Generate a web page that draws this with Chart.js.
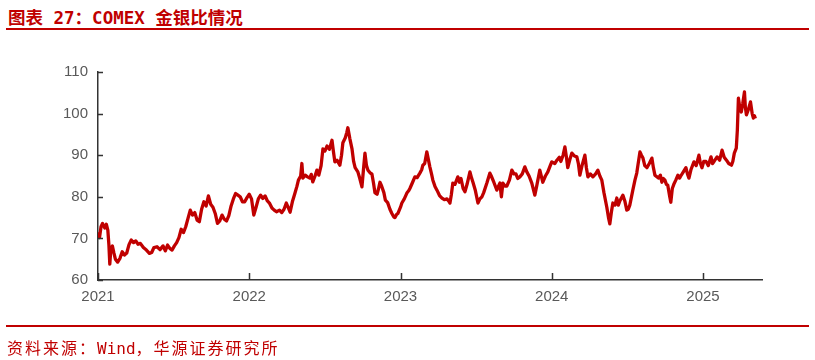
<!DOCTYPE html>
<html>
<head>
<meta charset="utf-8">
<script src="https://cdn.jsdelivr.net/npm/chart.js@4.4.1/dist/chart.umd.min.js"></script>
<style>
  html, body { margin: 0; padding: 0; background: #fff; }
  #wrap { position: relative; width: 815px; height: 360px; overflow: hidden; }
  #title { position: absolute; left: 8px; top: 4px; font: bold 17.5px "DejaVu Sans Mono", "Noto Sans CJK SC", sans-serif; color: #C00000; white-space: nowrap; }
  .rule { position: absolute; left: 6px; width: 803px; height: 2px; background: #C00000; }
  #source { position: absolute; left: 7px; top: 335px; font: 16px "DejaVu Sans Mono", "Noto Sans CJK SC", sans-serif; color: #C00000; white-space: nowrap; }
  #source .cjk { letter-spacing: 2px; }
  #chart { position: absolute; left: 0; top: 0; }
</style>
</head>
<body>
<div id="wrap">
  <div id="title">图表 27：COMEX 金银比情况</div>
  <div class="rule" style="top:28px"></div>
  <canvas id="chart" width="815" height="360"></canvas>
  <div class="rule" style="top:325px"></div>
  <div id="source"><span class="cjk">资料来源：</span>Wind<span class="cjk">，华源证券研究所</span></div>
</div>
<script>
// 金银比 (gold / silver), dates as decimal years
const dates = [
  2021.00, 2021.01, 2021.02, 2021.03, 2021.045, 2021.055, 2021.065, 2021.072, 2021.078, 2021.085,
  2021.095, 2021.105, 2021.115, 2021.13, 2021.145, 2021.16, 2021.175, 2021.19, 2021.205, 2021.22,
  2021.235, 2021.25, 2021.265, 2021.28, 2021.30, 2021.32, 2021.34, 2021.355, 2021.37, 2021.39,
  2021.41, 2021.43, 2021.445, 2021.46, 2021.475, 2021.49, 2021.505, 2021.52, 2021.535, 2021.55,
  2021.565, 2021.58, 2021.595, 2021.61, 2021.625, 2021.64, 2021.655, 2021.67, 2021.685, 2021.70,
  2021.715, 2021.73, 2021.745, 2021.76, 2021.775, 2021.79, 2021.805, 2021.82, 2021.835, 2021.85,
  2021.865, 2021.88, 2021.895, 2021.91, 2021.925, 2021.94, 2021.955, 2021.97, 2021.985, 2022.00,
  2022.015, 2022.03, 2022.045, 2022.06, 2022.075, 2022.09, 2022.105, 2022.12, 2022.135, 2022.15,
  2022.165, 2022.18, 2022.20, 2022.215, 2022.23, 2022.245, 2022.26, 2022.27, 2022.285, 2022.30,
  2022.315, 2022.325, 2022.34, 2022.348, 2022.355, 2022.37, 2022.385, 2022.40, 2022.41, 2022.42,
  2022.435, 2022.447, 2022.46, 2022.475, 2022.487, 2022.50, 2022.514, 2022.53, 2022.547, 2022.556,
  2022.566, 2022.58, 2022.599, 2022.61, 2022.619, 2022.635, 2022.645, 2022.652, 2022.665, 2022.679,
  2022.69, 2022.70, 2022.718, 2022.73, 2022.745, 2022.755, 2022.765, 2022.775, 2022.785, 2022.80,
  2022.811, 2022.822, 2022.831, 2022.845, 2022.855, 2022.864, 2022.875, 2022.89, 2022.90, 2022.915,
  2022.93, 2022.943, 2022.955, 2022.963, 2022.975, 2022.983, 2023.00,
  2023.009, 2023.025, 2023.042, 2023.055, 2023.062, 2023.08, 2023.095, 2023.11, 2023.128, 2023.14,
  2023.148, 2023.16, 2023.174, 2023.185, 2023.194, 2023.205, 2023.214, 2023.228, 2023.241, 2023.258,
  2023.274, 2023.29, 2023.307, 2023.318, 2023.327, 2023.336, 2023.346, 2023.36, 2023.379, 2023.39,
  2023.40, 2023.414, 2023.426, 2023.44, 2023.459, 2023.47, 2023.479, 2023.495, 2023.512, 2023.525,
  2023.538, 2023.55, 2023.571, 2023.591, 2023.60, 2023.617, 2023.637, 2023.647, 2023.657, 2023.667,
  2023.677, 2023.69, 2023.703, 2023.72, 2023.736, 2023.75, 2023.763, 2023.775, 2023.789, 2023.805,
  2023.822, 2023.835, 2023.85, 2023.868, 2023.888, 2023.90, 2023.921, 2023.941, 2023.958, 2023.974,
  2023.99, 2024.00,
  2024.02, 2024.034, 2024.05, 2024.06, 2024.075, 2024.087, 2024.097, 2024.106, 2024.12, 2024.133,
  2024.15, 2024.166, 2024.176, 2024.186, 2024.20, 2024.219, 2024.229, 2024.239, 2024.255, 2024.272,
  2024.29, 2024.305, 2024.318, 2024.331, 2024.345, 2024.364, 2024.375, 2024.384, 2024.395, 2024.404,
  2024.418, 2024.43, 2024.44, 2024.45, 2024.47, 2024.483, 2024.496, 2024.506, 2024.516, 2024.536,
  2024.55, 2024.562, 2024.583, 2024.593, 2024.603, 2024.615, 2024.629, 2024.645, 2024.662, 2024.672,
  2024.682, 2024.695, 2024.705, 2024.718, 2024.728, 2024.738, 2024.748, 2024.758, 2024.767, 2024.78,
  2024.787, 2024.797, 2024.807, 2024.82, 2024.834, 2024.845, 2024.853, 2024.87, 2024.887, 2024.897,
  2024.907, 2024.92, 2024.94, 2024.955, 2024.973, 2024.983, 2024.993,
  2025.005, 2025.02, 2025.035, 2025.053, 2025.063, 2025.073, 2025.093, 2025.11, 2025.126, 2025.14,
  2025.155, 2025.17, 2025.188, 2025.197, 2025.207, 2025.22, 2025.227, 2025.234, 2025.243, 2025.253,
  2025.263, 2025.274, 2025.28, 2025.287, 2025.30, 2025.314, 2025.325, 2025.333, 2025.34, 2025.346
];
const ratio = [
  71.5, 70.2, 72.8, 73.6, 72.5, 73.4, 72.0, 68.5, 63.8, 67.5,
  68.2, 66.5, 65.0, 64.3, 65.2, 66.8, 66.0, 66.5, 68.5, 69.6,
  69.0, 69.4, 68.6, 68.8, 67.8, 67.2, 66.4, 66.6, 67.8, 68.0,
  67.3, 68.2, 67.0, 68.4, 67.6, 67.2, 68.2, 69.0, 70.2, 72.2,
  71.4, 72.8, 74.8, 76.8, 75.6, 76.2, 74.4, 74.0, 77.0, 78.8,
  77.8, 80.2, 78.2, 77.5, 76.0, 73.6, 74.2, 75.6, 74.6, 74.2,
  75.5, 77.8, 79.5, 80.8, 80.4, 80.0, 78.8, 78.8, 79.8, 80.6,
  79.5, 75.6, 77.5, 79.5, 80.4, 79.6, 80.2, 79.0, 78.4, 77.3,
  76.8, 76.4, 76.8, 76.2, 77.0, 78.5, 77.2, 76.3, 78.8, 80.6,
  82.5, 84.0, 85.0, 88.0, 84.5, 85.2, 84.8, 84.5, 85.4, 83.6,
  85.0, 86.4, 85.2, 87.5, 91.5, 91.0, 92.2, 91.4, 93.6, 91.0,
  88.4, 88.8, 87.6, 90.0, 93.0, 94.2, 95.5, 96.6, 94.0, 91.6,
  88.5, 87.0, 86.0, 84.5, 82.4, 86.5, 90.5, 87.5, 86.4, 85.7,
  85.5, 83.2, 81.0, 80.6, 82.0, 83.5, 82.6, 81.0, 79.2, 78.6,
  77.0, 76.0, 75.2, 75.0, 75.8, 76.0, 77.5,
  78.5, 79.5, 80.9, 81.5, 82.0, 83.5, 84.8, 84.6, 85.7, 86.5,
  87.6, 88.0, 90.8, 88.8, 87.2, 85.5, 84.0, 82.5, 81.6, 80.3,
  79.7, 79.3, 79.5, 79.0, 78.5, 80.5, 83.3, 83.0, 84.8, 83.5,
  84.4, 82.0, 81.2, 83.0, 86.0, 84.5, 83.5, 81.5, 78.5, 79.5,
  80.0, 81.0, 83.3, 85.7, 85.0, 83.5, 81.6, 82.5, 83.3, 80.0,
  83.3, 82.6, 82.6, 84.0, 86.4, 85.5, 85.5, 84.4, 84.8, 85.5,
  87.2, 86.0, 85.0, 83.3, 80.4, 82.5, 86.4, 83.5, 85.0, 86.0,
  87.5, 88.4,
  88.0, 88.8, 89.5, 88.5, 90.0, 92.0, 89.5, 87.0, 89.0, 90.5,
  89.8, 89.6, 88.0, 85.2, 87.5, 90.0, 87.0, 84.8, 85.5, 84.8,
  85.5, 86.4, 85.0, 84.0, 81.0, 77.5, 75.0, 73.5, 76.5, 78.5,
  78.0, 79.7, 78.0, 79.0, 80.4, 79.0, 76.8, 77.0, 78.0, 81.6,
  84.0, 85.7, 90.8, 90.0, 89.3, 87.5, 87.0, 88.0, 89.3, 87.0,
  85.2, 84.8, 84.5, 85.2, 83.5, 84.4, 84.0, 83.0, 82.8, 80.0,
  78.7, 82.0, 83.0, 84.0, 85.2, 84.5, 85.0, 86.0, 87.0, 85.5,
  84.5, 86.5, 88.4, 87.5, 90.0, 88.0, 87.0,
  88.5, 88.5, 87.5, 89.6, 88.0, 88.5, 89.6, 88.8, 91.2, 89.5,
  88.8, 88.0, 87.6, 88.5, 90.5, 91.7, 96.0, 103.7, 101.5, 100.4,
  102.5, 105.2, 101.5, 99.7, 101.0, 102.8, 100.0, 98.9, 99.5, 98.8
];
const yearTicks = [2021, 2022, 2023, 2024, 2025];
const yTicks = [60, 70, 80, 90, 100, 110];

const points = dates.map((d, i) => ({ x: d, y: ratio[i] }));

// small inward tick marks like the original
const innerTicks = {
  id: 'innerTicks',
  afterDraw(chart) {
    const ctx = chart.ctx;
    const xs = chart.scales.x, ys = chart.scales.y;
    const a = chart.chartArea;
    ctx.save();
    ctx.strokeStyle = '#333';
    ctx.lineWidth = 1.5;
    ctx.beginPath();
    yearTicks.forEach(v => {
      const px = Math.round(xs.getPixelForValue(v)) + 0.5;
      ctx.moveTo(px, a.bottom);
      ctx.lineTo(px, a.bottom - 7);
    });
    yTicks.forEach(v => {
      const py = Math.round(ys.getPixelForValue(v)) + 0.5;
      ctx.moveTo(a.left, py);
      ctx.lineTo(a.left + 5, py);
    });
    ctx.stroke();
    ctx.restore();
  }
};

new Chart(document.getElementById('chart'), {
  type: 'line',
  data: {
    datasets: [{
      label: '金银比',
      data: points,
      borderColor: '#C00000',
      borderWidth: 3.3,
      pointRadius: 0,
      tension: 0,
      borderJoinStyle: 'round'
    }]
  },
  options: {
    responsive: false,
    animation: false,
    events: [],
    layout: { padding: { left: 0, top: 72, right: 53, bottom: 50 } },
    plugins: { legend: { display: false }, tooltip: { enabled: false } },
    scales: {
      x: {
        type: 'linear',
        min: 2021,
        max: 2025.39,
        afterBuildTicks: s => { s.ticks = yearTicks.map(v => ({ value: v })); },
        afterFit: s => { s.height = 30; },
        grid: { display: false, drawTicks: false },
        border: { display: true, color: '#333', width: 1.5 },
        ticks: {
          padding: 8,
          maxRotation: 0,
          autoSkip: false,
          color: '#595959',
          font: { family: '"Liberation Sans", Arial, sans-serif', size: 15 },
          callback: v => String(v)
        }
      },
      y: {
        min: 60,
        max: 110,
        afterBuildTicks: s => { s.ticks = yTicks.map(v => ({ value: v })); },
        afterFit: s => { s.width = 98; },
        grid: { display: false, drawTicks: false },
        border: { display: true, color: '#333', width: 1.5 },
        ticks: {
          padding: 10,
          color: '#595959',
          font: { family: '"Liberation Sans", Arial, sans-serif', size: 15 }
        }
      }
    }
  },
  plugins: [innerTicks]
});
</script>
</body>
</html>
